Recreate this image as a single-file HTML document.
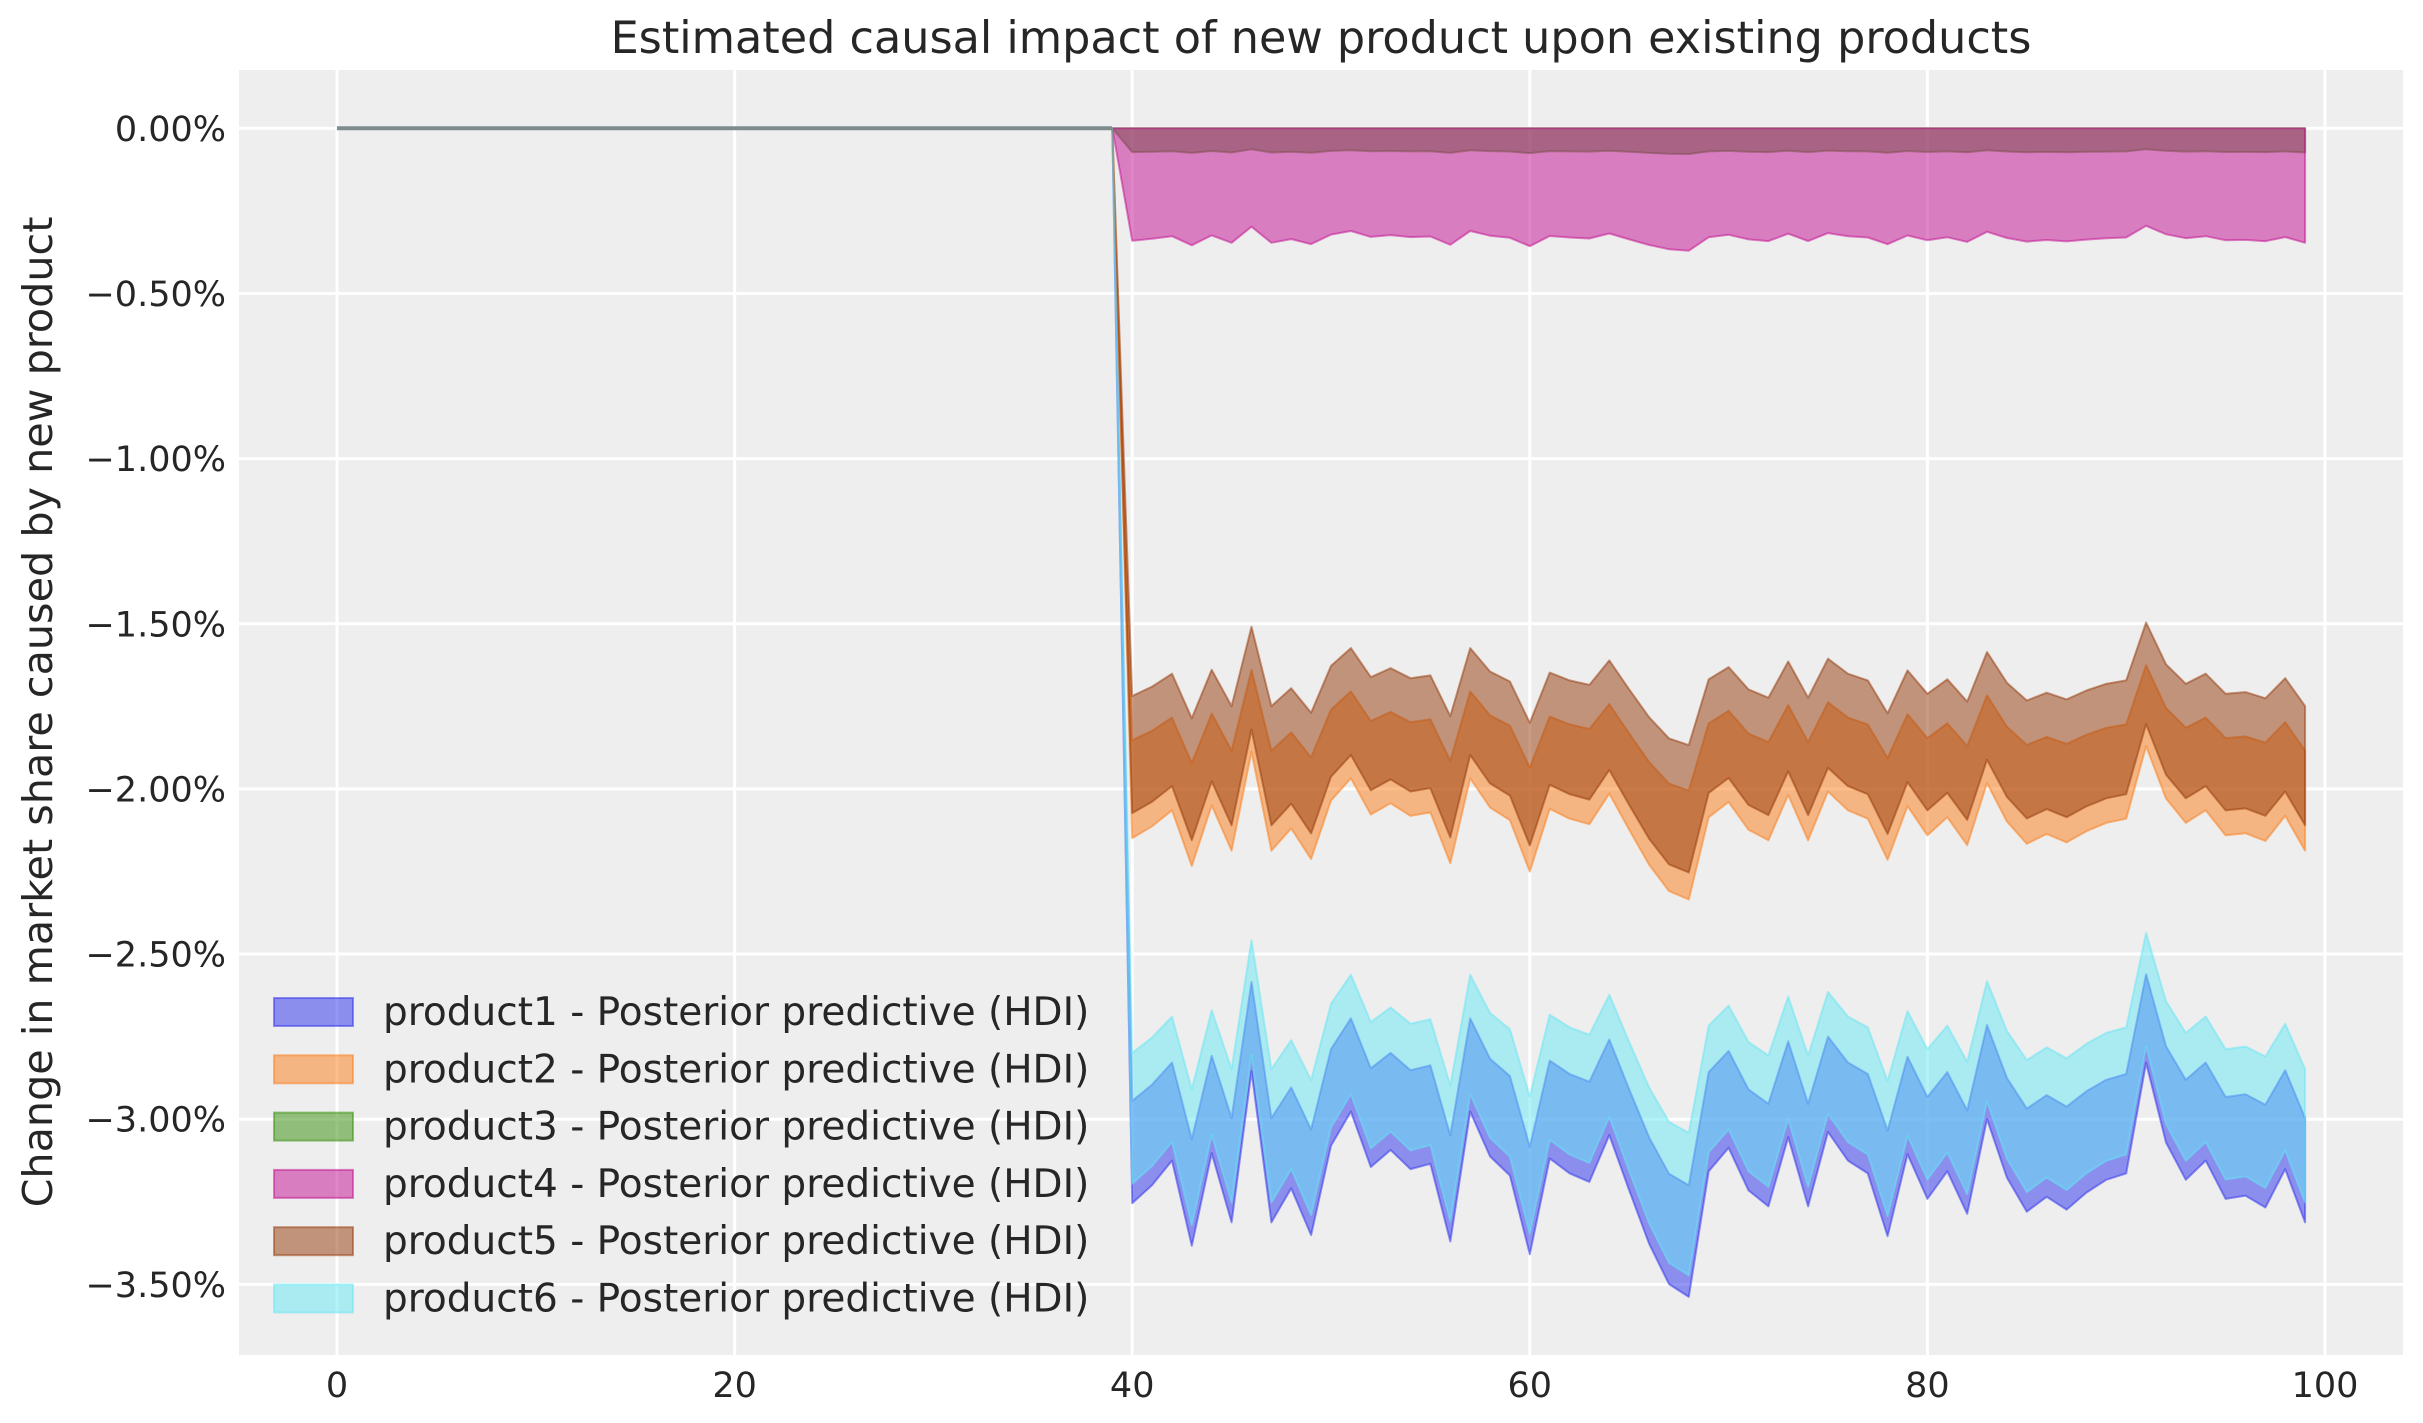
<!DOCTYPE html>
<html><head><meta charset="utf-8">
<style>
html,body{margin:0;padding:0;background:#fff;}
svg{display:block;}
text{font-family:"DejaVu Sans","Liberation Sans",sans-serif;fill:#262626;}
</style></head>
<body>
<svg id="c" width="2423" height="1423" viewBox="0 0 2423 1423" xmlns="http://www.w3.org/2000/svg">
<rect x="239" y="70" width="2164" height="1285" fill="#eeeeee"/>
<g id="grid" stroke="#ffffff" stroke-width="3"></g>
<g id="bands"></g>
<line x1="337" y1="128.3" x2="1112" y2="128.3" stroke="#7f8c8d" stroke-width="4"/>
<g id="ticks" font-size="35"></g>
<text x="1321" y="53" font-size="44.5" text-anchor="middle">Estimated causal impact of new product upon existing products</text>
<text transform="translate(52,712) rotate(-90)" font-size="41.3" text-anchor="middle">Change in market share caused by new product</text>
<g id="legend" font-size="39"></g>
</svg>
<script>
var NS="http://www.w3.org/2000/svg";
function el(t,a,p,txt){var e=document.createElementNS(NS,t);for(var k in a)e.setAttribute(k,a[k]);if(txt!=null)e.textContent=txt;p.appendChild(e);return e;}
function X(i){return 337+19.88*i;}
function Yv(v){return 128.3+330.3*(-v);}
var grid=document.getElementById('grid'),ticks=document.getElementById('ticks');
for(var i=0;i<=100;i+=20){el('line',{x1:X(i),y1:70,x2:X(i),y2:1355},grid);el('text',{x:X(i),y:1397,'text-anchor':'middle'},ticks,String(i));}
for(var k=0;k<=7;k++){var v=-0.5*k,y=Yv(v);el('line',{x1:239,y1:y,x2:2403,y2:y},grid);
 el('text',{x:226,y:y+12.5,'text-anchor':'end'},ticks,(k==0?'0.00%':'\u2212'+(0.5*k).toFixed(2)+'%'));}
var s=[262,245,222,302,215,280,138,280,248,292,208,176,228,212,230,225,298,176,218,236,310,220,234,242,198,250,300,338,350,232,210,250,265,200,265,195,222,234,293,216,258,232,272,183,238,270,256,268,252,240,234,130,205,240,222,258,255,266,230,280];
function Z(d){return 550+d/1.794;}
function series(fTop,fBot){var up=[],lo=[];for(var j=0;j<60;j++){up.push([X(40+j),fTop(s[j]-138)]);lo.push([X(40+j),fBot(s[j]-138)]);}
 var pts=[[X(39),128.3]].concat(up,lo.reverse());return pts.map(function(p){return p[0].toFixed(1)+','+p[1].toFixed(1)}).join(' ');}
var defs=[
 ['#2a2eec',function(t){return Z(775+1.72*t)},function(t){return Z(935+1.91*t)}],
 ['#fa7c17',function(t){return Z(215+1.02*t)},function(t){return Z(362+1.25*t)}],
 ['#328c06',function(t){return 128.3},function(t){return 100+(148+0.066*t)/3}],
 ['#c10c90',function(t){return 128.3},function(t){return 100+(380+0.34*t)/3}],
 ['#933708',function(t){return Z(138+t)},function(t){return Z(322+1.21*t)}],
 ['#65e5f3',function(t){return Z(700+1.63*t)},function(t){return Z(905+1.87*t)}]
];
var bands=document.getElementById('bands'),leg=document.getElementById('legend');
defs.forEach(function(d,n){
 el('polygon',{points:series(d[1],d[2]),fill:d[0],'fill-opacity':0.5,stroke:d[0],'stroke-opacity':0.5,'stroke-width':2,'stroke-linejoin':'round'},bands);
 var yy=998+57.3*n;
 el('rect',{x:274,y:yy,width:79,height:28,fill:d[0],'fill-opacity':0.5,stroke:d[0],'stroke-opacity':0.5,'stroke-width':2},leg);
 el('text',{x:383,y:yy+27},leg,'product'+(n+1)+' - Posterior predictive (HDI)');
});
</script>
</body></html>
